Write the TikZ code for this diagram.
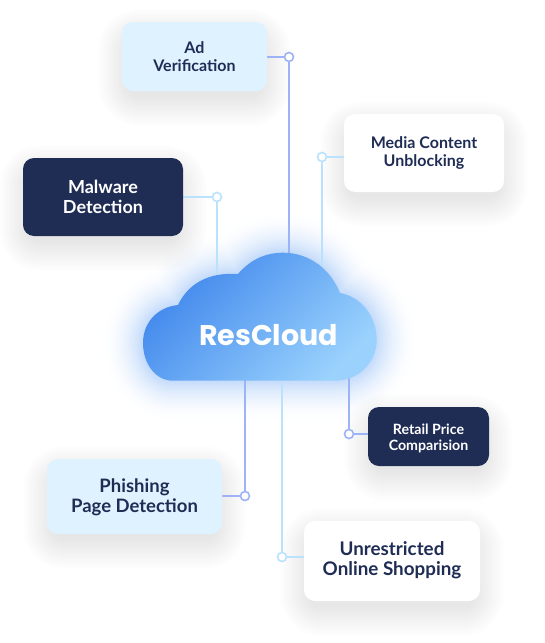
\documentclass[tikz,border=0pt]{standalone}
\usepackage{fontspec}
\setmainfont{Lato}
\newfontfamily\logofont{Poppins}
\usetikzlibrary{calc,backgrounds}
\definecolor{navy}{HTML}{1F2D55}
\definecolor{lightbox}{HTML}{DFF2FF}
\definecolor{linea}{HTML}{9DB3F8}
\definecolor{lineb}{HTML}{BBE2FC}
\definecolor{cloudA}{HTML}{3F86EC}
\definecolor{cloudB}{HTML}{9AD2FD}
\definecolor{glow}{HTML}{5E9EF2}
\pgfdeclarelayer{conn}
\pgfsetlayers{background,conn,main}
\tikzset{
  card/.style={rounded corners=11pt,inner sep=0pt,align=center,font=\bfseries\fontsize{16}{18}\selectfont,text=navy},
  lightcard/.style={card,fill=lightbox},
  whitecard/.style={card,fill=white},
  darkcard/.style={card,fill=navy,text=white},
  dota/.style={circle,draw=linea,fill=white,line width=1.6pt,minimum size=9pt,inner sep=0pt},
  dotb/.style={circle,draw=lineb,fill=white,line width=1.6pt,minimum size=9pt,inner sep=0pt},
  linka/.style={draw=linea,line width=1.7pt},
  linkb/.style={draw=lineb,line width=1.7pt},
}
\newcommand{\twolines}[3]{\raisebox{#1}[0pt][0pt]{#2}\\\raisebox{#1}[0pt][0pt]{#3}}
\newcommand{\cloudpath}{
  (173,380.7) .. controls (155,380.7) and (143,363) .. (143,343)
  .. controls (143,322) and (158,307) .. (178,305)
  .. controls (188,284) and (208,272) .. (238,274)
  .. controls (250,260) and (265,252.7) .. (283,252.7)
  .. controls (310,252.7) and (331,270) .. (340,293)
  .. controls (362,297) and (376.7,317) .. (376.7,340)
  .. controls (376.7,363) and (358,380.7) .. (335,380.7) -- cycle}
\newcommand{\softshadow}[1]{%
  \foreach \i in {1,...,24}{
    \pgfmathsetmacro\rr{11+1.25*\i}
    \pgfmathsetmacro\dd{1.25*\i-6}
    \fill[black,opacity=0.0028,rounded corners=\rr pt]
      ($(#1.south west)+({-\dd pt},{-\dd pt-11pt})$) rectangle ($(#1.north east)+({\dd pt},{\dd pt-11pt})$);
  }}
\begin{document}
\begin{tikzpicture}[x=1pt,y=-1pt]
\useasboundingbox (0,0) rectangle (545,643);
\node[lightcard,minimum width=145pt,minimum height=69pt] (ad) at (194.5,56.5) {\twolines{-6pt}{Ad}{Verification}};
\node[whitecard,minimum width=160pt,minimum height=78pt] (media) at (424,153) {\twolines{-4.5pt}{Media Content}{Unblocking}};
\node[darkcard,minimum width=160pt,minimum height=78pt,font=\bfseries\fontsize{18}{20}\selectfont] (malware) at (103,197) {\twolines{-6.2pt}{Malware}{Detection}};
\node[darkcard,minimum width=121pt,minimum height=59pt,font=\bfseries\fontsize{14.2}{15.5}\selectfont] (retail) at (428.5,436.5) {\twolines{-6pt}{Retail Price}{Comparision}};
\node[lightcard,minimum width=175pt,minimum height=75pt,font=\bfseries\fontsize{18.5}{20}\selectfont] (phish) at (134.5,496.5) {\twolines{-5.9pt}{Phishing}{Page Detection}};
\node[whitecard,minimum width=176pt,minimum height=80pt,font=\bfseries\fontsize{18.8}{20}\selectfont] (shop) at (392,561) {\twolines{-4.5pt}{Unrestricted}{Online Shopping}};
\node[dota] (d1) at (289,57) {};
\node[dotb] (d2) at (322,157) {};
\node[dotb] (d3) at (217,197) {};
\node[dota] (d4) at (349,434) {};
\node[dota] (d5) at (245,496) {};
\node[dotb] (d6) at (282,557) {};
\coordinate (e1) at (289,262);
\coordinate (e2) at (322,275);
\coordinate (e3) at (217,285);
\coordinate (e4) at (349,370);
\coordinate (e5) at (245,370);
\coordinate (e6) at (282,370);
\shade[top color=cloudA,bottom color=cloudB,shading angle=45] \cloudpath;
\node[text=white,font=\logofont\bfseries\fontsize{28.5}{32}\selectfont] (cloud) at (268.5,335) {ResCloud};
\begin{pgfonlayer}{conn}
\draw[linka] (ad.east |- d1) -- (d1) -- (e1);
\draw[linkb] (media.west |- d2) -- (d2) -- (e2);
\draw[linkb] (malware.east |- d3) -- (d3) -- (e3);
\draw[linka] (retail.west |- d4) -- (d4) -- (e4);
\draw[linka] (phish.east |- d5) -- (d5) -- (e5);
\draw[linkb] (shop.west |- d6) -- (d6) -- (e6);
\end{pgfonlayer}
\begin{pgfonlayer}{background}
\fill[white] (0,0) rectangle (545,643);
\foreach \i in {30,...,1}{
  \pgfmathsetmacro\pp{38*(1-\i/31)^2}
  \pgfmathsetmacro\lw{2.8*\i}
  \draw[draw=glow!\pp!white,line width=\lw pt,line join=round] \cloudpath;
}
\softshadow{ad}\softshadow{media}\softshadow{malware}\softshadow{retail}\softshadow{phish}\softshadow{shop}
\end{pgfonlayer}
\end{tikzpicture}
\end{document}
